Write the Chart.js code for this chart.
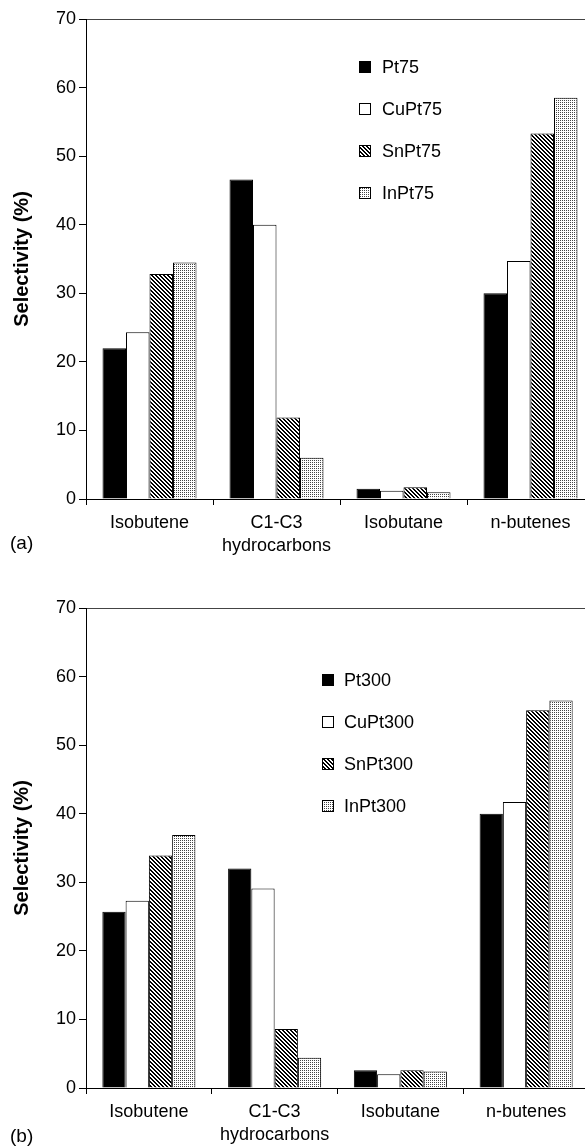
<!DOCTYPE html>
<html><head><meta charset="utf-8">
<script src="https://cdn.jsdelivr.net/npm/chart.js@4.4.1/dist/chart.umd.min.js"></script>
<style>
html,body{margin:0;padding:0;background:#fff;overflow:hidden;width:585px;height:1146px;position:relative;}
#wrapA{position:absolute;left:0;top:0;width:600px;height:560px;}
#wrapB{position:absolute;left:0;top:560px;width:600px;height:586px;}
canvas{display:block;}
</style></head><body>
<div id="wrapA"><canvas id="chartA" width="600" height="560"></canvas></div>
<div id="wrapB"><canvas id="chartB" width="600" height="586"></canvas></div>
<script>
// ---- data ----
const categories = ['Isobutene', ['C1-C3', 'hydrocarbons'], 'Isobutane', 'n-butenes'];
const yTicks = [0, 10, 20, 30, 40, 50, 60, 70];
const yTitle = 'Selectivity (%)';

const namesA = ['Pt75', 'CuPt75', 'SnPt75', 'InPt75'];
const pt75   = [22.0, 46.6, 1.5, 30.0];
const cuPt75 = [24.3, 40.0, 1.2, 34.7];
const snPt75 = [32.8, 11.9, 1.7, 53.3];
const inPt75 = [34.5, 6.0, 1.0, 58.5];

const namesB = ['Pt300', 'CuPt300', 'SnPt300', 'InPt300'];
const pt300   = [25.7, 32.0, 2.6, 40.0];
const cuPt300 = [27.3, 29.1, 2.0, 41.7];
const snPt300 = [33.9, 8.6, 2.6, 55.1];
const inPt300 = [36.9, 4.4, 2.4, 56.5];

// ---- styling ----
const FONT = '"Liberation Sans", Arial, Helvetica, sans-serif';
Chart.defaults.color = '#000';

function makePattern(kind) {
  const c = document.createElement('canvas');
  const x = c.getContext('2d');
  if (kind === 'hatch') {
    c.width = 4; c.height = 4;
    x.fillStyle = '#fff'; x.fillRect(0, 0, 4, 4);
    x.fillStyle = '#000';
    for (let i = 0; i < 4; i++) for (let j = 0; j < 4; j++) {
      if ((((i - j) % 4) + 4) % 4 < 2) x.fillRect(i, j, 1, 1);
    }
  } else {
    c.width = 2; c.height = 2;
    x.fillStyle = '#fff'; x.fillRect(0, 0, 2, 2);
    x.fillStyle = '#444'; x.fillRect(0, 0, 1, 1);
  }
  return x.createPattern(c, 'repeat');
}
const fills = ['#000', '#fff', makePattern('hatch'), makePattern('dots')];

const insideLegend = {
  id: 'insideLegend',
  afterDraw(chart, args, o) {
    const ctx = chart.ctx, ca = chart.chartArea;
    ctx.save();
    ctx.font = '18px ' + FONT;
    ctx.textBaseline = 'middle';
    ctx.textAlign = 'left';
    chart.data.datasets.forEach((ds, i) => {
      const y = Math.round(ca.top + o.top + i * o.gap);
      const x = Math.round(ca.left + o.left);
      ctx.fillStyle = ds.backgroundColor;
      ctx.fillRect(x, y - 6, 12, 12);
      ctx.strokeStyle = '#000'; ctx.lineWidth = 1;
      ctx.strokeRect(x + 0.5, y - 5.5, 11, 11);
      ctx.fillStyle = '#000';
      ctx.fillText(ds.label, x + o.textGap, y + 1);
    });
    ctx.font = '19px ' + FONT;
    ctx.fillText(o.tag, 10, o.tagY);
    ctx.restore();
  }
};

function makeChart(id, names, series, o) {
  return new Chart(document.getElementById(id), {
    type: 'bar',
    data: {
      labels: categories,
      datasets: names.map((n, i) => ({
        label: n, data: series[i], backgroundColor: fills[i],
        borderColor: '#000', borderWidth: 1,
        categoryPercentage: 0.74, barPercentage: 1
      }))
    },
    options: {
      responsive: false, animation: false, events: [], devicePixelRatio: 1,
      layout: { padding: { top: o.top, right: o.right, left: 0, bottom: 0 } },
      plugins: {
        legend: { display: false }, tooltip: { enabled: false },
        insideLegend: o.legend
      },
      scales: {
        x: {
          grid: { display: true, drawOnChartArea: false, drawTicks: true, tickLength: 6, color: '#000', lineWidth: 1, offset: true },
          border: { display: true, color: '#000', width: 1 },
          ticks: { color: '#000', font: { size: 18, family: FONT, lineHeight: 1.3 }, padding: 6, maxRotation: 0, autoSkip: false },
          afterFit: s => { s.height = o.xh; }
        },
        y: {
          min: yTicks[0], max: yTicks[yTicks.length - 1],
          afterBuildTicks: s => { s.ticks = yTicks.map(v => ({ value: v })); },
          ticks: { color: '#000', font: { size: 18, family: FONT }, padding: 3 },
          grid: {
            color: c => (c.tick && c.tick.value === yTicks[yTicks.length - 1]) ? '#444' : 'rgba(0,0,0,0)',
            tickColor: '#000', tickLength: 7, drawTicks: true, lineWidth: 1
          },
          border: { display: true, color: '#000', width: 1 },
          title: { display: true, text: yTitle, color: '#000', font: { size: 20, weight: 'bold', family: FONT }, padding: { top: 10, bottom: 0 } },
          afterFit: s => { s.width = 86; }
        }
      }
    },
    plugins: [insideLegend]
  });
}

makeChart('chartA', namesA, [pt75, cuPt75, snPt75, inPt75], {
  top: 19, right: 6, xh: 61,
  legend: { left: 273, top: 48, gap: 42, textGap: 23, tag: '(a)', tagY: 544 }
});
makeChart('chartB', namesB, [pt300, cuPt300, snPt300, inPt300], {
  top: 48, right: 11, xh: 58,
  legend: { left: 236, top: 72, gap: 42, textGap: 22, tag: '(b)', tagY: 577 }
});
</script>
</body></html>
